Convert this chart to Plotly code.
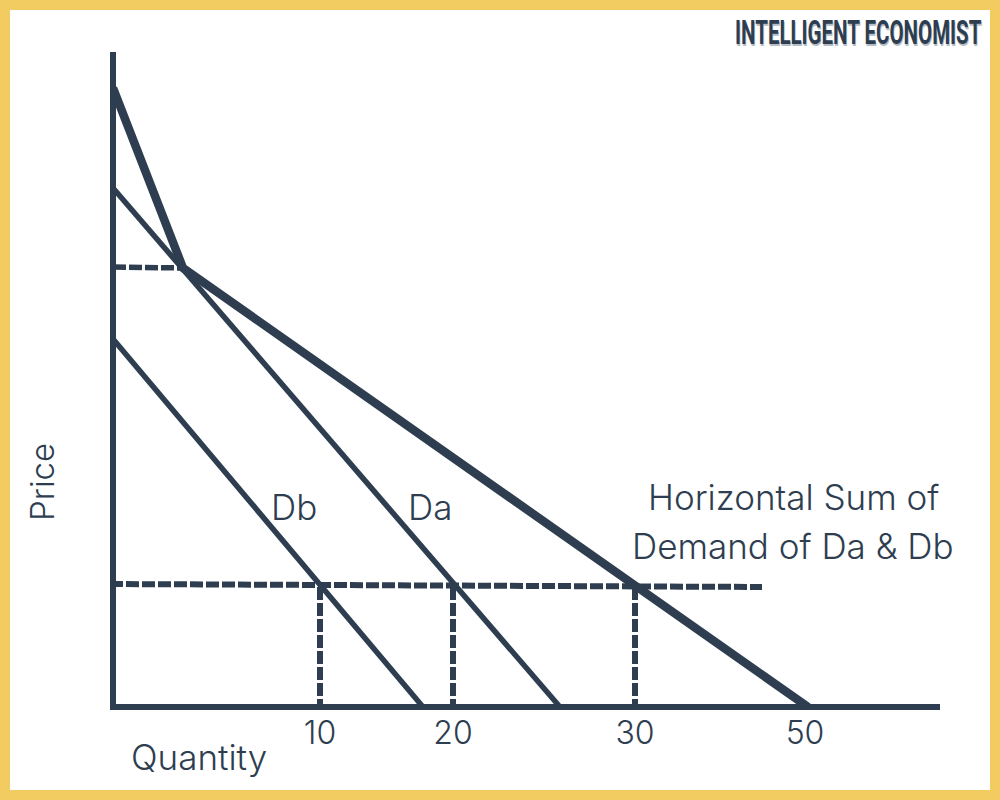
import plotly.graph_objects as go

# Values (schematic units, not to scale)
quantity_ticks = [207, 340, 522, 692]
quantity_labels = ["10", "20", "30", "50"]

da_q = [0, 447]
da_p = [519, 0]
db_q = [0, 310]
db_p = [368, 0]
sum_q = [0, 70, 695]
sum_p = [619, 439, 0]

kink_q = [0, 70]
kink_p = [440, 439]
price_q = [-3, 649]
price_p = [123, 120]

drop_10_q = [207, 207]
drop_20_q = [340, 340]
drop_30_q = [522, 522]
drop_p = [120, 0]

navy = "#2E3E50"
yellow = "#F2CC60"
page_w, page_h = 1000, 800
left, right, top, bottom = 110, 60, 52, 90
plot_w = page_w - left - right
plot_h = page_h - top - bottom
tick_font = dict(family="Inter", size=32, color=navy, weight=300)
label_font = dict(family="Inter", size=35, color=navy, weight=300)

fig = go.Figure()


def add_line(x, y, width, dash="solid"):
    fig.add_trace(go.Scatter(
        x=x, y=y, mode="lines",
        line=dict(color=navy, width=width, dash=dash),
        hoverinfo="skip", showlegend=False,
    ))


# page pixels to paper fractions, for what sits outside the plot area
def px_x(x):
    return (x - left) / plot_w


def px_y(y):
    return (page_h - bottom - y) / plot_h


add_line(da_q, da_p, 5.5)
add_line(db_q, db_p, 5.5)
add_line(sum_q, sum_p, 8.5)
add_line(kink_q, kink_p, 5.5, "13px,3px")
add_line(price_q, price_p, 6, "13px,3px")
for drop_q in [drop_10_q, drop_20_q, drop_30_q]:
    add_line(drop_q, drop_p, 6, "13px,3px")

# Text labels
notes = [
    ("Db", 181, 200),
    ("Da", 317, 200),
    ("Horizontal Sum of", 680, 210),
    ("Demand of Da & Db", 680, 161),
]
for text, x, y in notes:
    fig.add_annotation(x=x, y=y, text=text, showarrow=False, font=label_font)

fig.add_annotation(x=px_x(199), y=px_y(757), xref="paper", yref="paper",
                   xanchor="center", yanchor="middle",
                   text="Quantity", showarrow=False, font=label_font)
fig.add_annotation(x=px_x(42), y=px_y(482), xref="paper", yref="paper",
                   xanchor="center", yanchor="middle",
                   text="Price", textangle=-90, showarrow=False,
                   font=dict(family="Inter", size=33, color=navy, weight=300))

# Logo, top right of the frame
fig.add_annotation(
    x=px_x(858), y=px_y(33), xref="paper", yref="paper",
    xanchor="center", yanchor="middle",
    text="INTELLIGENT ECONOMIST", showarrow=False,
    font=dict(family="Roboto", size=20.5, color=navy, weight=700, shadow="1px 1px 0 #B5BCC4"),
)

# Yellow frame, half of the line falls off the page
fig.add_shape(
    type="rect", xref="paper", yref="paper",
    x0=px_x(0), x1=px_x(page_w), y0=px_y(page_h), y1=px_y(0),
    line=dict(color=yellow, width=20), fillcolor="rgba(0,0,0,0)",
)

fig.update_xaxes(
    range=[-3, 827], showgrid=False, showline=False,
    zeroline=True, zerolinecolor=navy, zerolinewidth=6,
    tickmode="array", tickvals=quantity_ticks, ticktext=quantity_labels,
    ticks="", ticklabelstandoff=1, tickfont=tick_font,
)
fig.update_yaxes(
    range=[-3, 655], showgrid=False, showline=False,
    zeroline=True, zerolinecolor=navy, zerolinewidth=6,
    showticklabels=False, ticks="",
)
fig.update_layout(
    width=page_w, height=page_h,
    margin=dict(l=left, r=right, t=top, b=bottom, pad=0),
    paper_bgcolor="white", plot_bgcolor="white",
    showlegend=False, font=dict(family="Inter", color=navy),
)

# no condensed font installed, so stretch the logo text to its height
post = """
document.body.style.margin = '0';
document.querySelectorAll('.annotation-text').forEach(function (t) {
    if (t.textContent.indexOf('INTELLIGENT') === 0) {
        var box = t.getBBox();
        var cy = box.y + box.height / 2;
        t.setAttribute('transform', 'translate(0,' + cy + ') scale(1,1.62) translate(0,' + (-cy) + ')');
    }
});
"""
fig.write_html("out.html", post_script=post, config=dict(displayModeBar=False))
